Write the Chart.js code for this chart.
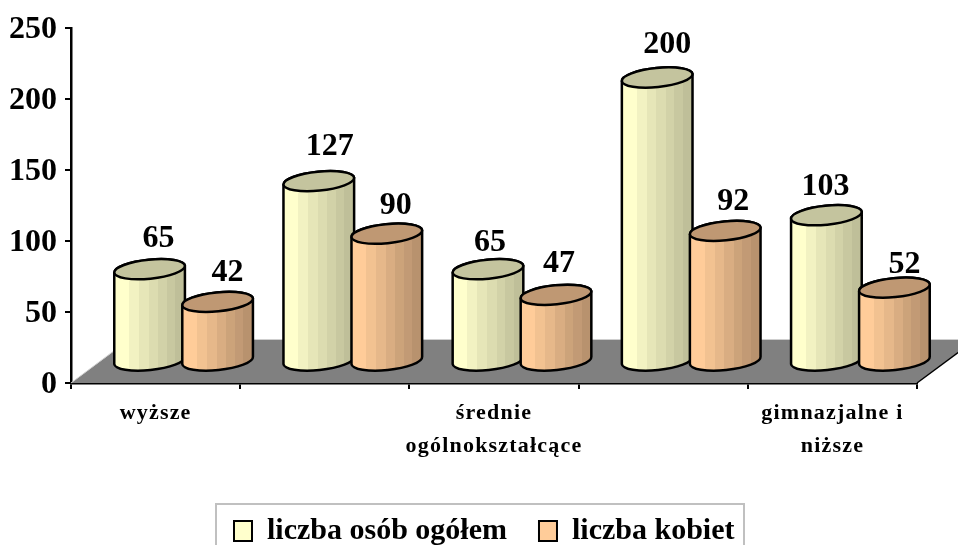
<!DOCTYPE html>
<html><head><meta charset="utf-8">
<style>html,body{margin:0;padding:0;background:#fff;overflow:hidden}#w{width:958px;height:545px}</style>
<script src="https://cdn.jsdelivr.net/npm/chart.js@4/dist/chart.umd.min.js"></script>
</head><body><div id="w"><canvas id="c" width="958" height="545"></canvas></div>
<script>
const categories = ["wyższe", "", ["średnie", "ogólnokształcące"], "", ["gimnazjalne i", "niższe"]];
const seriesNames = ["liczba osób ogółem", "liczba kobiet"];
const totalPeople = [65, 127, 65, 200, 103];
const women = [42, 90, 47, 92, 52];
const yTicks = [0, 50, 100, 150, 200, 250];

const FONT = "'Liberation Serif','Times New Roman',serif";
const yellowStripes = ['#ffffcc','#f2f2c2','#e6e6b8','#dcdcb0','#d2d2a8','#c8c8a0','#bfbf99'];
const orangeStripes = ['#ffcc99','#f2c291','#e6b88a','#d9ad82','#cca37a','#c29a75','#b8926e'];
const stripeStops = [0, .21, .35, .49, .62, .74, .86, 1];
const topColors = ['#c4c49e', '#bf9873'];
const stripes = [yellowStripes, orangeStripes];
const depth = {floorX: 58, floorY: 43, shiftX: 28, shiftY: 21.5, ry: 9.5, tilt: -0.1};
const labelNudgeX = [[9,10],[11,9],[2,3],[10,8],[-1,10]];
const labelLift = [[30,29],[34,28],[26,31],[33,29],[29,23]];

const pseudo3d = {
  id: 'pseudo3d',
  afterLayout(chart) {
    const lg = chart.legend;
    lg.left = 202; lg.top = 484;
    const xs = chart.scales.x;
    if (!xs._spaced) {
      xs._spaced = true;
      const orig = xs.drawLabels;
      xs.drawLabels = function (a) {
        chart.ctx.letterSpacing = '1.2px';
        orig.call(this, a);
        chart.ctx.letterSpacing = '0px';
      };
    }
  },
  beforeDraw(chart) {
    const c = chart.ctx;
    c.save();
    c.strokeStyle = '#c0c0c0'; c.lineWidth = 2;
    c.strokeRect(216, 504, 528, 60);
    c.restore();
  },
  beforeDatasetsDraw(chart) {
    const c = chart.ctx, a = chart.chartArea;
    c.save();
    c.beginPath();
    c.moveTo(a.left, a.bottom);
    c.lineTo(a.left + depth.floorX, a.bottom - depth.floorY);
    c.lineTo(a.right + depth.floorX, a.bottom - depth.floorY);
    c.lineTo(a.right, a.bottom);
    c.closePath();
    c.fillStyle = '#808080'; c.fill();
    c.strokeStyle = '#cfcfcf'; c.lineWidth = 1;
    c.beginPath();
    c.moveTo(a.left, a.bottom);
    c.lineTo(a.left + depth.floorX, a.bottom - depth.floorY - .5);
    c.lineTo(a.right + depth.floorX, a.bottom - depth.floorY - .5);
    c.stroke();
    c.strokeStyle = '#000'; c.lineWidth = 1.5;
    c.beginPath();
    c.moveTo(a.right, a.bottom);
    c.lineTo(a.right + depth.floorX, a.bottom - depth.floorY);
    c.stroke();
    c.restore();
  },
  beforeDatasetDraw() { return false; },
  afterDatasetsDraw(chart) {
    const c = chart.ctx;
    c.save();
    c.strokeStyle = '#000'; c.lineWidth = 2.5; c.lineJoin = 'round';
    chart.data.datasets.forEach((d, ds) => {
      chart.getDatasetMeta(ds).data.forEach(el => {
        const p = el.getProps(['x', 'y', 'base', 'width'], true);
        const cx = p.x + depth.shiftX, topY = p.y - depth.shiftY, botY = p.base - depth.shiftY;
        const rx = p.width / 2, L = cx - rx;
        const g = c.createLinearGradient(L, 0, cx + rx, 0);
        stripes[ds].forEach((col, i) => {
          g.addColorStop(stripeStops[i], col);
          g.addColorStop(stripeStops[i + 1], col);
        });
        c.beginPath();
        c.ellipse(cx, botY, rx, depth.ry, depth.tilt, 0, Math.PI);
        c.ellipse(cx, topY, rx, depth.ry, depth.tilt, Math.PI, 2 * Math.PI);
        c.closePath();
        c.fillStyle = g; c.fill(); c.stroke();
        c.beginPath();
        c.ellipse(cx, topY, rx, depth.ry, depth.tilt, 0, 2 * Math.PI);
        c.fillStyle = topColors[ds]; c.fill(); c.stroke();
      });
    });
    c.font = 'bold 32px ' + FONT; c.fillStyle = '#000';
    c.textAlign = 'center'; c.textBaseline = 'middle';
    chart.data.datasets.forEach((d, ds) => {
      chart.getDatasetMeta(ds).data.forEach((el, i) => {
        const p = el.getProps(['x', 'y'], true);
        c.fillText(String(d.data[i]), p.x + depth.shiftX + labelNudgeX[i][ds],
          p.y - depth.shiftY - labelLift[i][ds]);
      });
    });
    c.restore();
  }
};

new Chart(document.getElementById('c'), {
  type: 'bar',
  data: {
    labels: categories,
    datasets: [
      {label: seriesNames[0], data: totalPeople, backgroundColor: yellowStripes[0], borderColor: '#000', borderWidth: 2,
       categoryPercentage: 0.804, barPercentage: 1.044},
      {label: seriesNames[1], data: women, backgroundColor: orangeStripes[0], borderColor: '#000', borderWidth: 2,
       categoryPercentage: 0.804, barPercentage: 1.044}
    ]
  },
  options: {
    responsive: false, animation: false, devicePixelRatio: 1,
    layout: {autoPadding: false, padding: {left: 0, top: 28, right: 41, bottom: 0}},
    plugins: {
      tooltip: {enabled: false},
      legend: {
        position: 'bottom', align: 'start',
        labels: {
          boxWidth: 18, boxHeight: 20, padding: 32, color: '#000',
          font: {family: FONT, size: 30, weight: 'bold'}
        }
      }
    },
    scales: {
      x: {
        offset: true,
        afterFit(s) { s.height = 90; },
        border: {color: '#000', width: 2.5},
        grid: {display: true, drawOnChartArea: false, drawTicks: true, tickLength: 6, color: '#000', lineWidth: 2, offset: true},
        ticks: {autoSkip: false, maxRotation: 0, minRotation: 0, padding: 8, color: '#000',
          font: {family: FONT, size: 22, weight: 'bold', lineHeight: '33px'}}
      },
      y: {
        min: 0, max: 250,
        afterFit(s) { s.width = 71; },
        afterBuildTicks(s) { s.ticks = yTicks.map(v => ({value: v})); },
        border: {color: '#000', width: 2.5},
        grid: {display: true, drawOnChartArea: false, drawTicks: true, tickLength: 6, color: '#000', lineWidth: 2},
        ticks: {padding: 8, labelOffset: 2, color: '#000', font: {family: FONT, size: 32, weight: 'bold'}}
      }
    }
  },
  plugins: [pseudo3d]
});
</script></body></html>
